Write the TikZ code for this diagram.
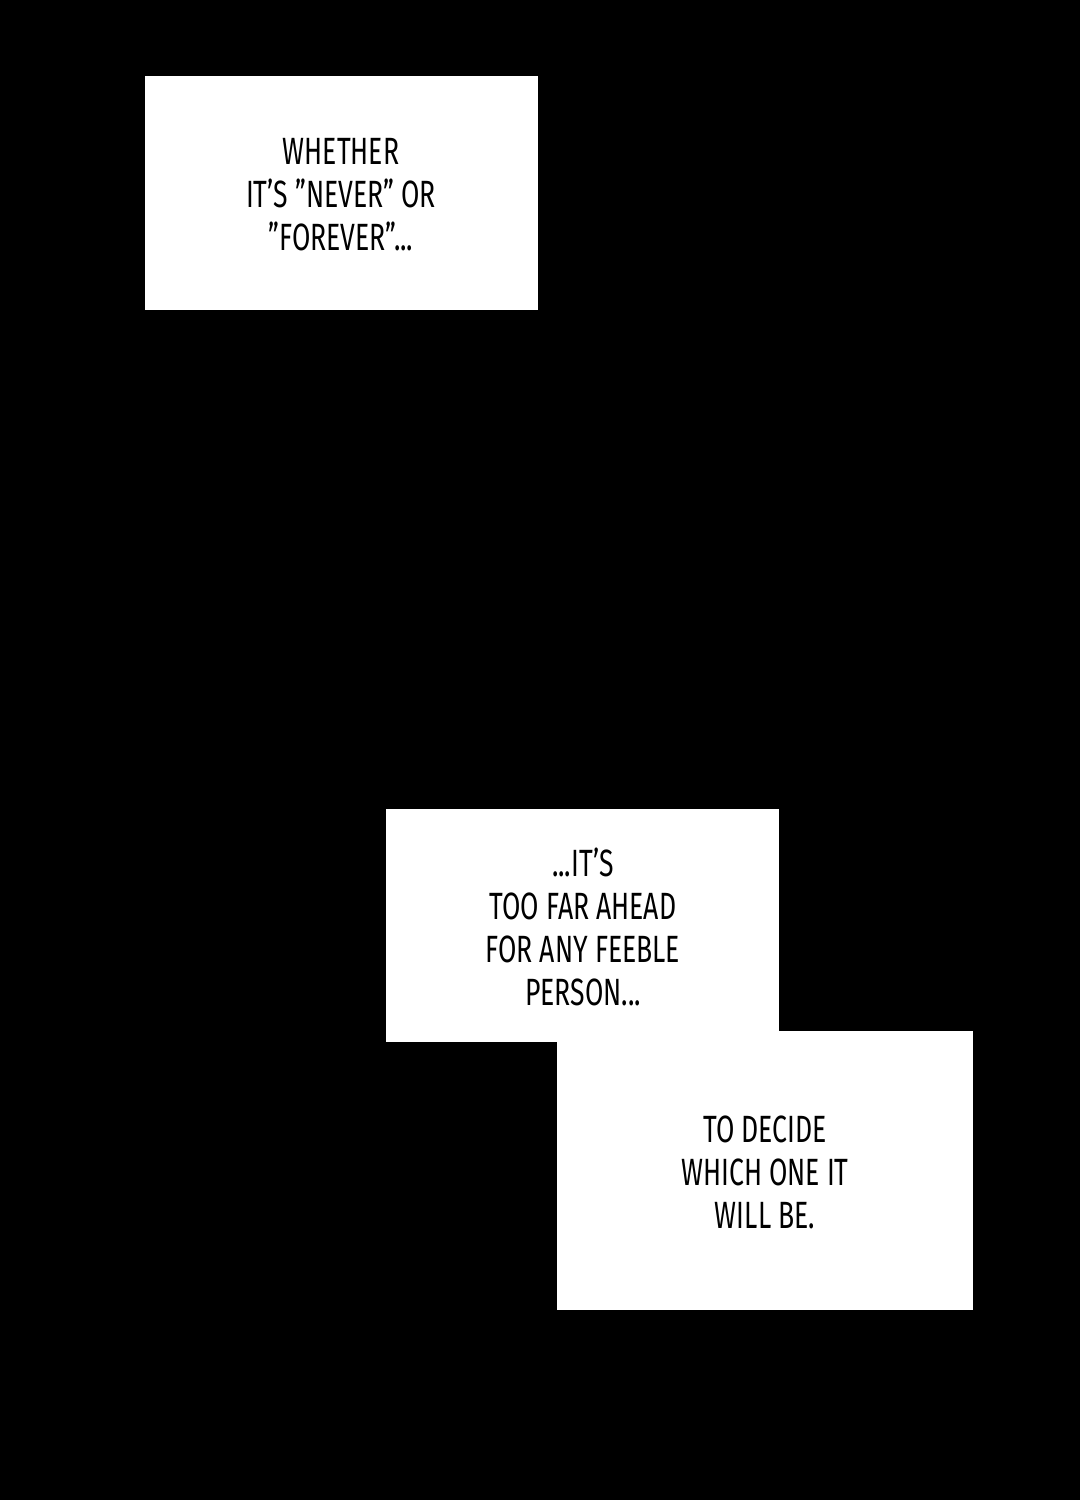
\documentclass[tikz,border=0pt]{standalone}
\usepackage{fontspec}
\setmainfont[FakeStretch=0.7]{Fira Sans}
\usepackage{tikz}
\usetikzlibrary{positioning}

\begin{document}
\begin{tikzpicture}[x=0.025cm, y=-0.025cm,
  caption/.style={font=\fontsize{27}{30.6}\selectfont, align=center, text=black, inner sep=0pt}]

% Black page
\fill[black] (0,0) rectangle (1080,1500);

% Caption boxes
\fill[white] (145,76) rectangle (538,310);
\fill[white] (386,809) rectangle (779,1042);
\fill[white] (557,1031) rectangle (973,1310);

% Captions
\node[caption] (first) at (341,195) {WHETHER\\IT'S "NEVER" OR\\"FOREVER"...};
\node[caption] (second) at (583,927) {...IT'S\\TOO FAR AHEAD\\FOR ANY FEEBLE\\PERSON...};
\node[caption] (third) at (765,1172) {TO DECIDE\\WHICH ONE IT\\WILL BE.};

\end{tikzpicture}
\end{document}
